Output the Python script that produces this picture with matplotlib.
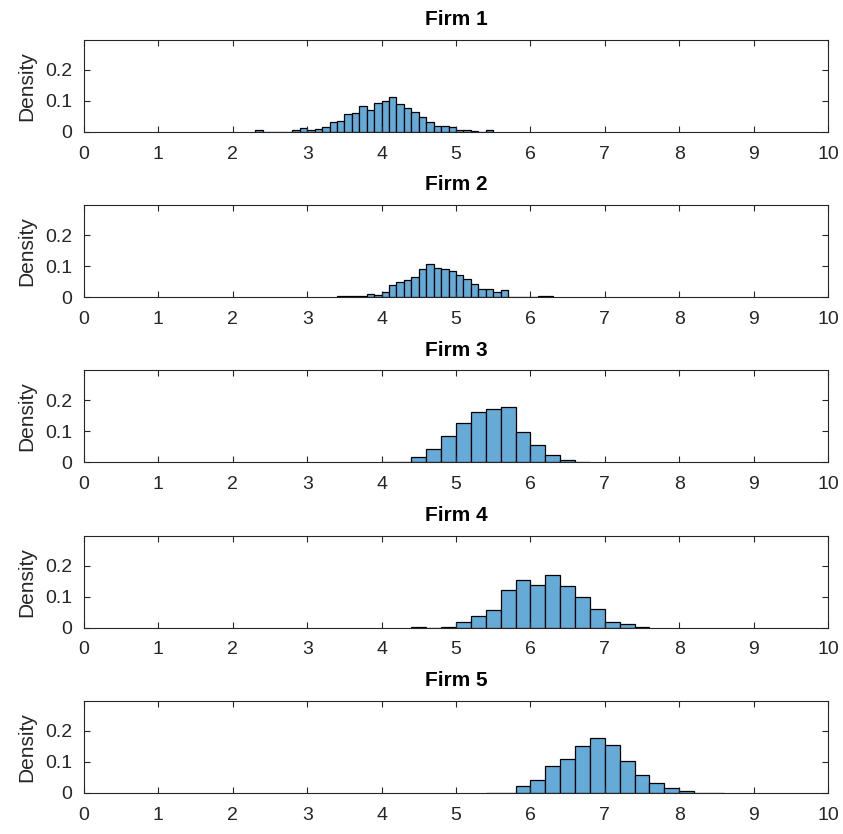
import numpy as np
import matplotlib.pyplot as plt

plt.rcParams['font.family'] = ['Liberation Sans', 'DejaVu Sans']

# Histogramas por empresa: inicio del primer bin, ancho de bin y alturas (probabilidad)
firmas = ['Firm 1', 'Firm 2', 'Firm 3', 'Firm 4', 'Firm 5']
inicio_bins = [2.3, 3.4, 4.0, 4.4, 5.4]
ancho_bins = [0.1, 0.1, 0.2, 0.2, 0.2]

alturas_firm1 = [0.005, 0, 0, 0, 0, 0.004, 0.011, 0.004, 0.010, 0.015, 0.030, 0.035,
                 0.057, 0.061, 0.083, 0.071, 0.092, 0.098, 0.113, 0.091, 0.076, 0.063,
                 0.046, 0.031, 0.019, 0.019, 0.015, 0.004, 0.004, 0.003, 0, 0.005]
alturas_firm2 = [0.002, 0.002, 0.002, 0.002, 0.009, 0.006, 0.017, 0.039, 0.048, 0.054,
                 0.065, 0.089, 0.105, 0.095, 0.089, 0.084, 0.070, 0.059, 0.043, 0.027,
                 0.027, 0.017, 0.022, 0.001, 0.001, 0.001, 0, 0.002, 0.002]
alturas_firm3 = [0.002, 0.002, 0.018, 0.044, 0.085, 0.128, 0.162, 0.173, 0.178, 0.097,
                 0.055, 0.023, 0.009, 0.002]
alturas_firm4 = [0.002, 0, 0.002, 0.017, 0.037, 0.057, 0.122, 0.154, 0.139, 0.169,
                 0.133, 0.098, 0.060, 0.019, 0.011, 0.003]
alturas_firm5 = [0.001, 0.001, 0.022, 0.041, 0.088, 0.109, 0.152, 0.176, 0.156, 0.103,
                 0.058, 0.033, 0.015, 0.005, 0.001, 0.001]
alturas = [alturas_firm1, alturas_firm2, alturas_firm3, alturas_firm4, alturas_firm5]

xticks = list(range(0, 11))
yticks = [0, 0.1, 0.2]

color_barra = '#66AAD7'
gris = '#262626'

fig = plt.figure(figsize=(8.43, 8.34), dpi=100)
W, H = 843, 834

for i, nombre in enumerate(firmas):
    abajo_px = 131.7 + 165.3 * i
    ax = fig.add_axes([84 / W, (H - abajo_px) / H, 744 / W, 92 / H])
    h = np.array(alturas[i])
    bordes = inicio_bins[i] + ancho_bins[i] * np.arange(len(h))
    ax.bar(bordes, h, width=ancho_bins[i], align='edge', color=color_barra,
           edgecolor='black', linewidth=0.9)
    ax.set_xlim(0, 10)
    ax.set_ylim(0, 0.297)
    ax.set_xticks(xticks)
    ax.set_yticks(yticks)
    ax.set_yticklabels(['0', '0.1', '0.2'])
    ax.tick_params(direction='in', length=4, width=0.8, colors=gris, labelsize=14,
                   top=True, right=True)
    ax.tick_params(axis='x', pad=10)
    ax.tick_params(axis='y', pad=8.5)
    for lado in ax.spines.values():
        lado.set_color(gris)
        lado.set_linewidth(0.8)
    ax.set_ylabel('Density', fontsize=15, color=gris, labelpad=6)
    ax.set_title(nombre, fontsize=15, fontweight='bold', color='black', pad=10.5)

plt.savefig('out.png', dpi=100)
plt.close()
